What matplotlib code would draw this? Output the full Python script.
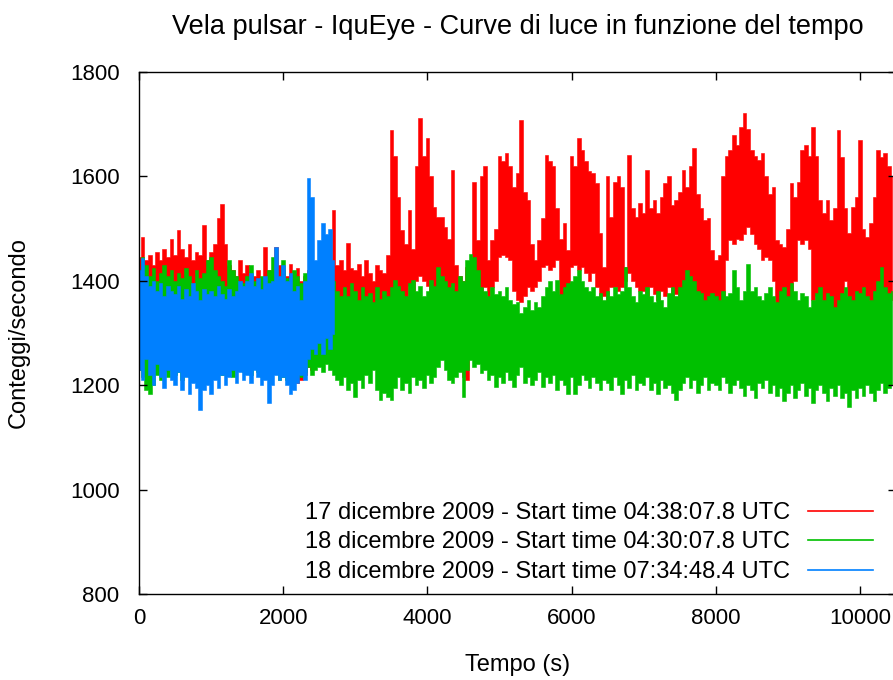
import numpy as np
import matplotlib
matplotlib.use("Agg")
import matplotlib.pyplot as plt

plt.rcParams['font.family'] = ['Liberation Sans', 'DejaVu Sans']

STEP = 50  # s, one high/low pair of readings per bin

# 17 dicembre 2009 - highest / lowest count rate in each bin
red_hi = [1445, 1484, 1440, 1450, 1430, 1455, 1440, 1460, 1445, 1481,
          1450, 1497, 1460, 1445, 1470, 1440, 1455, 1450, 1507, 1440,
          1455, 1470, 1520, 1548, 1470, 1430, 1420, 1410, 1440, 1415,
          1430, 1400, 1410, 1420, 1400, 1465, 1420, 1405, 1465, 1430,
          1420, 1410, 1433, 1415, 1425, 1400, 1410, 1420, 1405, 1415,
          1410, 1420, 1400, 1430, 1536, 1430, 1440, 1420, 1472, 1425,
          1420, 1433, 1410, 1440, 1414, 1400, 1430, 1420, 1414, 1450,
          1689, 1640, 1560, 1497, 1470, 1536, 1460, 1620, 1711, 1640,
          1673, 1600, 1542, 1523, 1523, 1504, 1480, 1612, 1430, 1410,
          1400, 1427, 1410, 1590, 1478, 1600, 1619, 1440, 1478, 1500,
          1640, 1630, 1644, 1620, 1580, 1606, 1708, 1570, 1555, 1470,
          1440, 1478, 1520, 1641, 1630, 1619, 1540, 1480, 1510, 1459,
          1640, 1620, 1673, 1650, 1630, 1610, 1606, 1587, 1491, 1427,
          1600, 1523, 1590, 1600, 1580, 1427, 1641, 1540, 1523, 1550,
          1530, 1612, 1540, 1555, 1530, 1560, 1587, 1600, 1545, 1555,
          1570, 1612, 1580, 1619, 1654, 1567, 1540, 1516, 1520, 1459,
          1440, 1450, 1600, 1640, 1650, 1680, 1660, 1695, 1721, 1690,
          1650, 1640, 1631, 1645, 1600, 1567, 1580, 1478, 1470, 1465,
          1500, 1587, 1560, 1590, 1650, 1660, 1640, 1695, 1640, 1555,
          1530, 1555, 1516, 1540, 1689, 1638, 1540, 1491, 1542, 1560,
          1670, 1500, 1484, 1510, 1560, 1650, 1638, 1645, 1619, 1600]
red_lo = [1260, 1250, 1270, 1255, 1265, 1250, 1260, 1270, 1255, 1260,
          1265, 1255, 1260, 1270, 1250, 1260, 1265, 1255, 1260, 1270,
          1260, 1255, 1270, 1265, 1250, 1260, 1255, 1265, 1260, 1250,
          1255, 1265, 1250, 1260, 1245, 1255, 1240, 1250, 1235, 1245,
          1240, 1230, 1225, 1215, 1205, 1210, 1220, 1235, 1230, 1245,
          1240, 1250, 1245, 1260, 1255, 1270, 1265, 1275, 1280, 1285,
          1280, 1270, 1265, 1290, 1275, 1260, 1285, 1290, 1300, 1310,
          1340, 1360, 1380, 1370, 1360, 1390, 1380, 1400, 1410, 1400,
          1390, 1340, 1300, 1280, 1260, 1250, 1240, 1230, 1260, 1245,
          1215, 1210, 1260, 1300, 1389, 1380, 1389, 1360, 1389, 1400,
          1446, 1450, 1446, 1440, 1380, 1363, 1360, 1370, 1389, 1380,
          1389, 1400, 1427, 1430, 1420, 1427, 1440, 1360, 1350, 1355,
          1427, 1430, 1420, 1427, 1414, 1400, 1414, 1389, 1363, 1370,
          1363, 1389, 1389, 1380, 1389, 1400, 1414, 1400, 1389, 1380,
          1380, 1370, 1389, 1375, 1363, 1380, 1370, 1389, 1365, 1375,
          1363, 1370, 1380, 1360, 1340, 1350, 1338, 1345, 1350, 1331,
          1340, 1331, 1363, 1440, 1478, 1470, 1480, 1478, 1490, 1504,
          1490, 1470, 1460, 1440, 1445, 1440, 1400, 1350, 1331, 1340,
          1345, 1350, 1400, 1478, 1470, 1478, 1460, 1363, 1370, 1363,
          1360, 1340, 1312, 1330, 1350, 1320, 1400, 1360, 1312, 1330,
          1350, 1338, 1363, 1345, 1350, 1363, 1340, 1355, 1363, 1363]

# 18 dicembre 2009, 04:30:07.8 UTC
green_hi = [1420, 1446, 1430, 1410, 1425, 1400, 1415, 1430, 1410, 1420,
            1400, 1415, 1405, 1425, 1410, 1395, 1420, 1405, 1415, 1440,
            1446, 1420, 1410, 1400, 1390, 1440, 1420, 1410, 1400, 1395,
            1410, 1430, 1400, 1390, 1410, 1380, 1420, 1446, 1410, 1400,
            1440, 1405, 1400, 1420, 1410, 1395, 1415, 1400, 1405, 1390,
            1400, 1395, 1410, 1390, 1400, 1380, 1370, 1389, 1370, 1395,
            1380, 1363, 1389, 1370, 1376, 1360, 1389, 1365, 1380, 1370,
            1389, 1401, 1390, 1380, 1370, 1395, 1401, 1380, 1390, 1370,
            1380, 1401, 1390, 1427, 1410, 1400, 1389, 1395, 1380, 1410,
            1400, 1440, 1452, 1445, 1420, 1389, 1380, 1370, 1389, 1375,
            1380, 1370, 1389, 1363, 1355, 1360, 1338, 1350, 1363, 1345,
            1360, 1350, 1370, 1389, 1400, 1380, 1401, 1375, 1389, 1395,
            1400, 1410, 1420, 1400, 1389, 1380, 1389, 1370, 1376, 1363,
            1380, 1370, 1389, 1375, 1380, 1427, 1389, 1370, 1360, 1380,
            1375, 1389, 1370, 1360, 1380, 1363, 1350, 1376, 1389, 1370,
            1389, 1401, 1420, 1410, 1400, 1380, 1376, 1363, 1370, 1376,
            1370, 1363, 1380, 1370, 1376, 1420, 1389, 1363, 1380, 1433,
            1380, 1389, 1370, 1363, 1376, 1389, 1370, 1360, 1380, 1389,
            1370, 1395, 1380, 1363, 1376, 1370, 1350, 1363, 1376, 1389,
            1363, 1376, 1370, 1350, 1363, 1376, 1389, 1370, 1363, 1380,
            1376, 1389, 1370, 1363, 1380, 1400, 1427, 1389, 1376, 1380]
green_lo = [1230, 1215, 1190, 1184, 1200, 1220, 1210, 1225, 1215, 1230,
            1220, 1225, 1210, 1230, 1215, 1220, 1235, 1225, 1210, 1220,
            1225, 1215, 1230, 1220, 1235, 1225, 1215, 1230, 1240, 1225,
            1230, 1220, 1235, 1225, 1215, 1230, 1220, 1225, 1235, 1210,
            1215, 1210, 1225, 1220, 1230, 1215, 1225, 1235, 1220, 1230,
            1235, 1225, 1240, 1230, 1220, 1210, 1200, 1215, 1190, 1205,
            1178, 1210, 1195, 1220, 1205, 1230, 1190, 1172, 1185, 1178,
            1172, 1195, 1215, 1190, 1205, 1185, 1215, 1200, 1210, 1195,
            1220, 1205, 1215, 1235, 1248, 1230, 1210, 1204, 1215, 1225,
            1178, 1230, 1248, 1235, 1240, 1223, 1230, 1210, 1220, 1197,
            1215, 1205, 1225, 1210, 1197, 1220, 1235, 1205, 1215, 1200,
            1210, 1225, 1197, 1215, 1205, 1220, 1190, 1210, 1200, 1184,
            1215, 1184, 1200, 1220, 1210, 1195, 1215, 1205, 1190, 1210,
            1205, 1190, 1215, 1200, 1184, 1210, 1195, 1220, 1190, 1205,
            1200, 1215, 1190, 1205, 1184, 1210, 1195, 1200, 1185, 1172,
            1190, 1205, 1215, 1195, 1210, 1185, 1200, 1215, 1190, 1205,
            1200, 1190, 1215, 1205, 1185, 1200, 1210, 1195, 1180, 1200,
            1190, 1175, 1205, 1195, 1210, 1185, 1200, 1180, 1195, 1170,
            1185, 1200, 1175, 1190, 1205, 1180, 1195, 1165, 1190, 1200,
            1185, 1170, 1195, 1180, 1200, 1175, 1185, 1159, 1190, 1175,
            1195, 1180, 1200, 1185, 1170, 1190, 1205, 1185, 1195, 1200]

# 18 dicembre 2009, 07:34:48.4 UTC (short run)
blue_hi = [1420, 1443, 1410, 1390, 1400, 1380, 1395, 1370, 1390, 1380,
           1375, 1390, 1365, 1385, 1370, 1395, 1380, 1363, 1385, 1375,
           1380, 1370, 1390, 1375, 1365, 1385, 1370, 1380, 1400, 1390,
           1400, 1414, 1390, 1405, 1385, 1410, 1395, 1400, 1465, 1410,
           1430, 1400, 1414, 1380, 1390, 1363, 1400, 1596, 1560, 1440,
           1478, 1510, 1490, 1500, 1440]
blue_lo = [1230, 1210, 1250, 1220, 1200, 1240, 1215, 1195, 1230, 1210,
           1200, 1225, 1190, 1215, 1184, 1205, 1195, 1152, 1190, 1200,
           1184, 1210, 1195, 1220, 1200, 1215, 1230, 1205, 1225, 1210,
           1220, 1205, 1230, 1215, 1200, 1210, 1165, 1200, 1220, 1210,
           1215, 1200, 1184, 1190, 1205, 1220, 1210, 1250, 1270, 1260,
           1280, 1260, 1290, 1270, 1299]

labels = ['17 dicembre 2009 - Start time 04:38:07.8 UTC',
          '18 dicembre 2009 - Start time 04:30:07.8 UTC',
          '18 dicembre 2009 - Start time 07:34:48.4 UTC']
colors = ['#ff0000', '#00c000', '#0080ff']

fig = plt.figure(figsize=(8.93, 6.80), dpi=100)
ax = fig.add_axes([139 / 893, 86 / 680, 757 / 893, 522 / 680])

series = [(red_hi, red_lo), (green_hi, green_lo), (blue_hi, blue_lo)]
for (hi, lo), lab, col in zip(series, labels, colors):
    t = np.arange(len(hi)) * STEP
    # the curve is so dense that every bin is a vertical stroke from min to max
    ax.fill_between(t, lo, hi, step='mid', color=col, lw=0.4, edgecolor=col)
    ax.plot([], [], color=col, lw=1.2, label=lab)

ax.set_xlim(0, 10500)
ax.set_ylim(800, 1800)
ax.set_xticks(np.arange(0, 10001, 2000))
ax.set_yticks(np.arange(800, 1801, 200))
ax.tick_params(direction='in', length=6, width=1, top=True, right=True,
               labelsize=16, colors='black')
ax.tick_params(axis='x', pad=10)
ax.tick_params(axis='y', pad=14)
for s in ax.spines.values():
    s.set_linewidth(1.0)

ax.set_title('Vela pulsar - IquEye - Curve di luce in funzione del tempo',
             fontsize=19.5, pad=27)
ax.set_xlabel('Tempo (s)', fontsize=17)
ax.xaxis.set_label_coords(0.5, -0.115)
ax.set_ylabel('Conteggi/secondo', fontsize=17)
ax.yaxis.set_label_coords(-0.144, 0.5)

ax.legend(loc='lower right', bbox_to_anchor=(0.9696, 0.021),
          frameon=False, markerfirst=False, fontsize=17,
          handlelength=2.75, handletextpad=0.76, labelspacing=0.32,
          borderpad=0, borderaxespad=0)

fig.savefig('out.png', dpi=100)
